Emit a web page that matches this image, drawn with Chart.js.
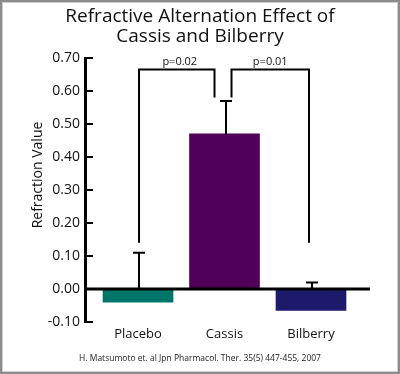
<!DOCTYPE html>
<html>
<head>
<meta charset="utf-8">
<script src="https://cdn.jsdelivr.net/npm/chart.js@4.4.1/dist/chart.umd.min.js"></script>
<style>
  html, body { margin: 0; padding: 0; background: #fff; }
  #wrap { width: 400px; height: 374px; }
</style>
</head>
<body>
<div id="wrap"><canvas id="myChart" width="400" height="374"></canvas></div>
<script>
// ---- data ----
const CATEGORIES = ["Placebo", "Cassis", "Bilberry"];
const MEANS = [-0.04, 0.47, -0.065];
const ERROR_TOPS = [0.11, 0.57, 0.02];
const BAR_COLORS = ["#00766b", "#51005a", "#1d1a6c"];
const Y_TICKS = [-0.1, 0, 0.1, 0.2, 0.3, 0.4, 0.5, 0.6, 0.7];
const P_LABELS = ["p=0.02", "p=0.01"];
const BRACKET_TOP = 0.665;     // horizontal part of both brackets
const BRACKET_OUTER = 0.14;    // leg end over Placebo / Bilberry
const BRACKET_INNER = 0.58;    // leg end over Cassis

const TITLE = ["Refractive Alternation Effect of", "Cassis and Bilberry"];
const Y_TITLE = "Refraction Value";
const SOURCE = "H. Matsumoto et. al Jpn Pharmacol. Ther. 35(5) 447-455, 2007";

const FONT = "'Open Sans', sans-serif";
Chart.defaults.font.family = FONT;
Chart.defaults.color = "#111";

// x range of the plot; the zero line stops short of the right edge
const X_MIN = 0.387, X_MAX = 4.029, ZERO_LINE_END = 3.682;

// error bars, brackets, inward ticks, zero line, frame
const extras = {
  id: "extras",
  afterDatasetsDraw(chart) {
    const { ctx, chartArea, scales: { x, y } } = chart;
    ctx.save();
    ctx.strokeStyle = "#000";
    ctx.lineCap = "butt";

    // error bars
    ctx.lineWidth = 2;
    MEANS.forEach((m, i) => {
      const px = Math.round(x.getPixelForValue(i + 1)) + 1;
      const yTop = y.getPixelForValue(ERROR_TOPS[i]);
      ctx.beginPath();
      ctx.moveTo(px, y.getPixelForValue(Math.max(m, 0)));
      ctx.lineTo(px, yTop);
      ctx.moveTo(px - 6, yTop);
      ctx.lineTo(px + 6, yTop);
      ctx.stroke();
    });

    // zero line
    ctx.lineWidth = 3;
    ctx.beginPath();
    ctx.moveTo(chartArea.left, y.getPixelForValue(0));
    ctx.lineTo(x.getPixelForValue(ZERO_LINE_END), y.getPixelForValue(0));
    ctx.stroke();

    // inward ticks on the y axis
    ctx.lineWidth = 2;
    Y_TICKS.forEach(v => {
      const py = Math.round(y.getPixelForValue(v));
      ctx.beginPath();
      ctx.moveTo(chartArea.left, py);
      ctx.lineTo(chartArea.left + 8, py);
      ctx.stroke();
    });

    // significance brackets
    const yT = y.getPixelForValue(BRACKET_TOP);
    const yO = y.getPixelForValue(BRACKET_OUTER);
    const yI = y.getPixelForValue(BRACKET_INNER);
    const legs = [
      [x.getPixelForValue(1) + 1, x.getPixelForValue(2) - 10],
      [x.getPixelForValue(2) + 7, x.getPixelForValue(3) - 2]
    ];
    ctx.lineJoin = "miter";
    legs.forEach(([a, b], i) => {
      ctx.beginPath();
      ctx.moveTo(a, i === 0 ? yO : yI);
      ctx.lineTo(a, yT);
      ctx.lineTo(b, yT);
      ctx.lineTo(b, i === 0 ? yI : yO);
      ctx.stroke();
      ctx.fillStyle = "#111";
      ctx.font = "11px " + FONT;
      ctx.textAlign = "center";
      ctx.textBaseline = "alphabetic";
      ctx.fillText(P_LABELS[i], (a + b) / 2 + (i === 0 ? 3 : 0), yT - 5);
    });
    ctx.restore();
  },
  afterDraw(chart) {
    const { ctx } = chart;
    ctx.save();
    // y axis title
    ctx.translate(38, 175);
    ctx.rotate(-Math.PI / 2);
    ctx.fillStyle = "#111";
    ctx.font = "14px " + FONT;
    ctx.textAlign = "center";
    ctx.textBaseline = "middle";
    ctx.fillText(Y_TITLE, 0, 0);
    ctx.restore();

    // picture frame
    ctx.save();
    ctx.strokeStyle = "#8c8c8c";
    ctx.lineWidth = 2;
    ctx.strokeRect(1, 1, 398, 372);
    ctx.strokeStyle = "#cfcfcf";
    ctx.lineWidth = 1;
    ctx.strokeRect(2.5, 2.5, 395, 369);
    ctx.restore();
  }
};

new Chart(document.getElementById("myChart").getContext("2d"), {
  type: "bar",
  data: {
    datasets: [{
      data: MEANS.map((v, i) => ({ x: i + 1, y: v })),
      backgroundColor: BAR_COLORS,
      barThickness: 70,
      borderWidth: 0
    }]
  },
  options: {
    responsive: false,
    animation: false,
    events: [],
    layout: { padding: 0 },
    plugins: {
      legend: { display: false },
      tooltip: { enabled: false },
      title: {
        display: true,
        text: TITLE,
        color: "#111",
        font: { size: 19, weight: "normal", lineHeight: "20px" },
        padding: { top: 7, bottom: 11 }
      },
      subtitle: {
        display: true,
        position: "bottom",
        text: SOURCE,
        color: "#222",
        font: { size: 8.5, weight: "normal", lineHeight: "12px" },
        padding: { top: 4, bottom: 9 }
      }
    },
    scales: {
      x: {
        type: "linear",
        offset: false,
        min: X_MIN,
        max: X_MAX,
        grid: { display: false, drawTicks: false, offset: false },
        border: { display: false },
        afterBuildTicks: s => { s.ticks = CATEGORIES.map((c, i) => ({ value: i + 1 })); },
        afterFit: s => { s.height = 27; },
        ticks: {
          callback: v => CATEGORIES[v - 1] || "",
          autoSkip: false,
          maxRotation: 0,
          padding: 4,
          font: { size: 13 }
        }
      },
      y: {
        min: -0.1,
        max: 0.7,
        afterBuildTicks: s => { s.ticks = Y_TICKS.map(v => ({ value: v })); },
        afterFit: s => { s.width = 85; },
        grid: { display: false, drawTicks: false },
        border: { display: true, width: 3, color: "#000" },
        ticks: {
          callback: v => v.toFixed(2),
          padding: 5,
          font: { size: 14 }
        }
      }
    }
  },
  plugins: [extras]
});
</script>
</body>
</html>
